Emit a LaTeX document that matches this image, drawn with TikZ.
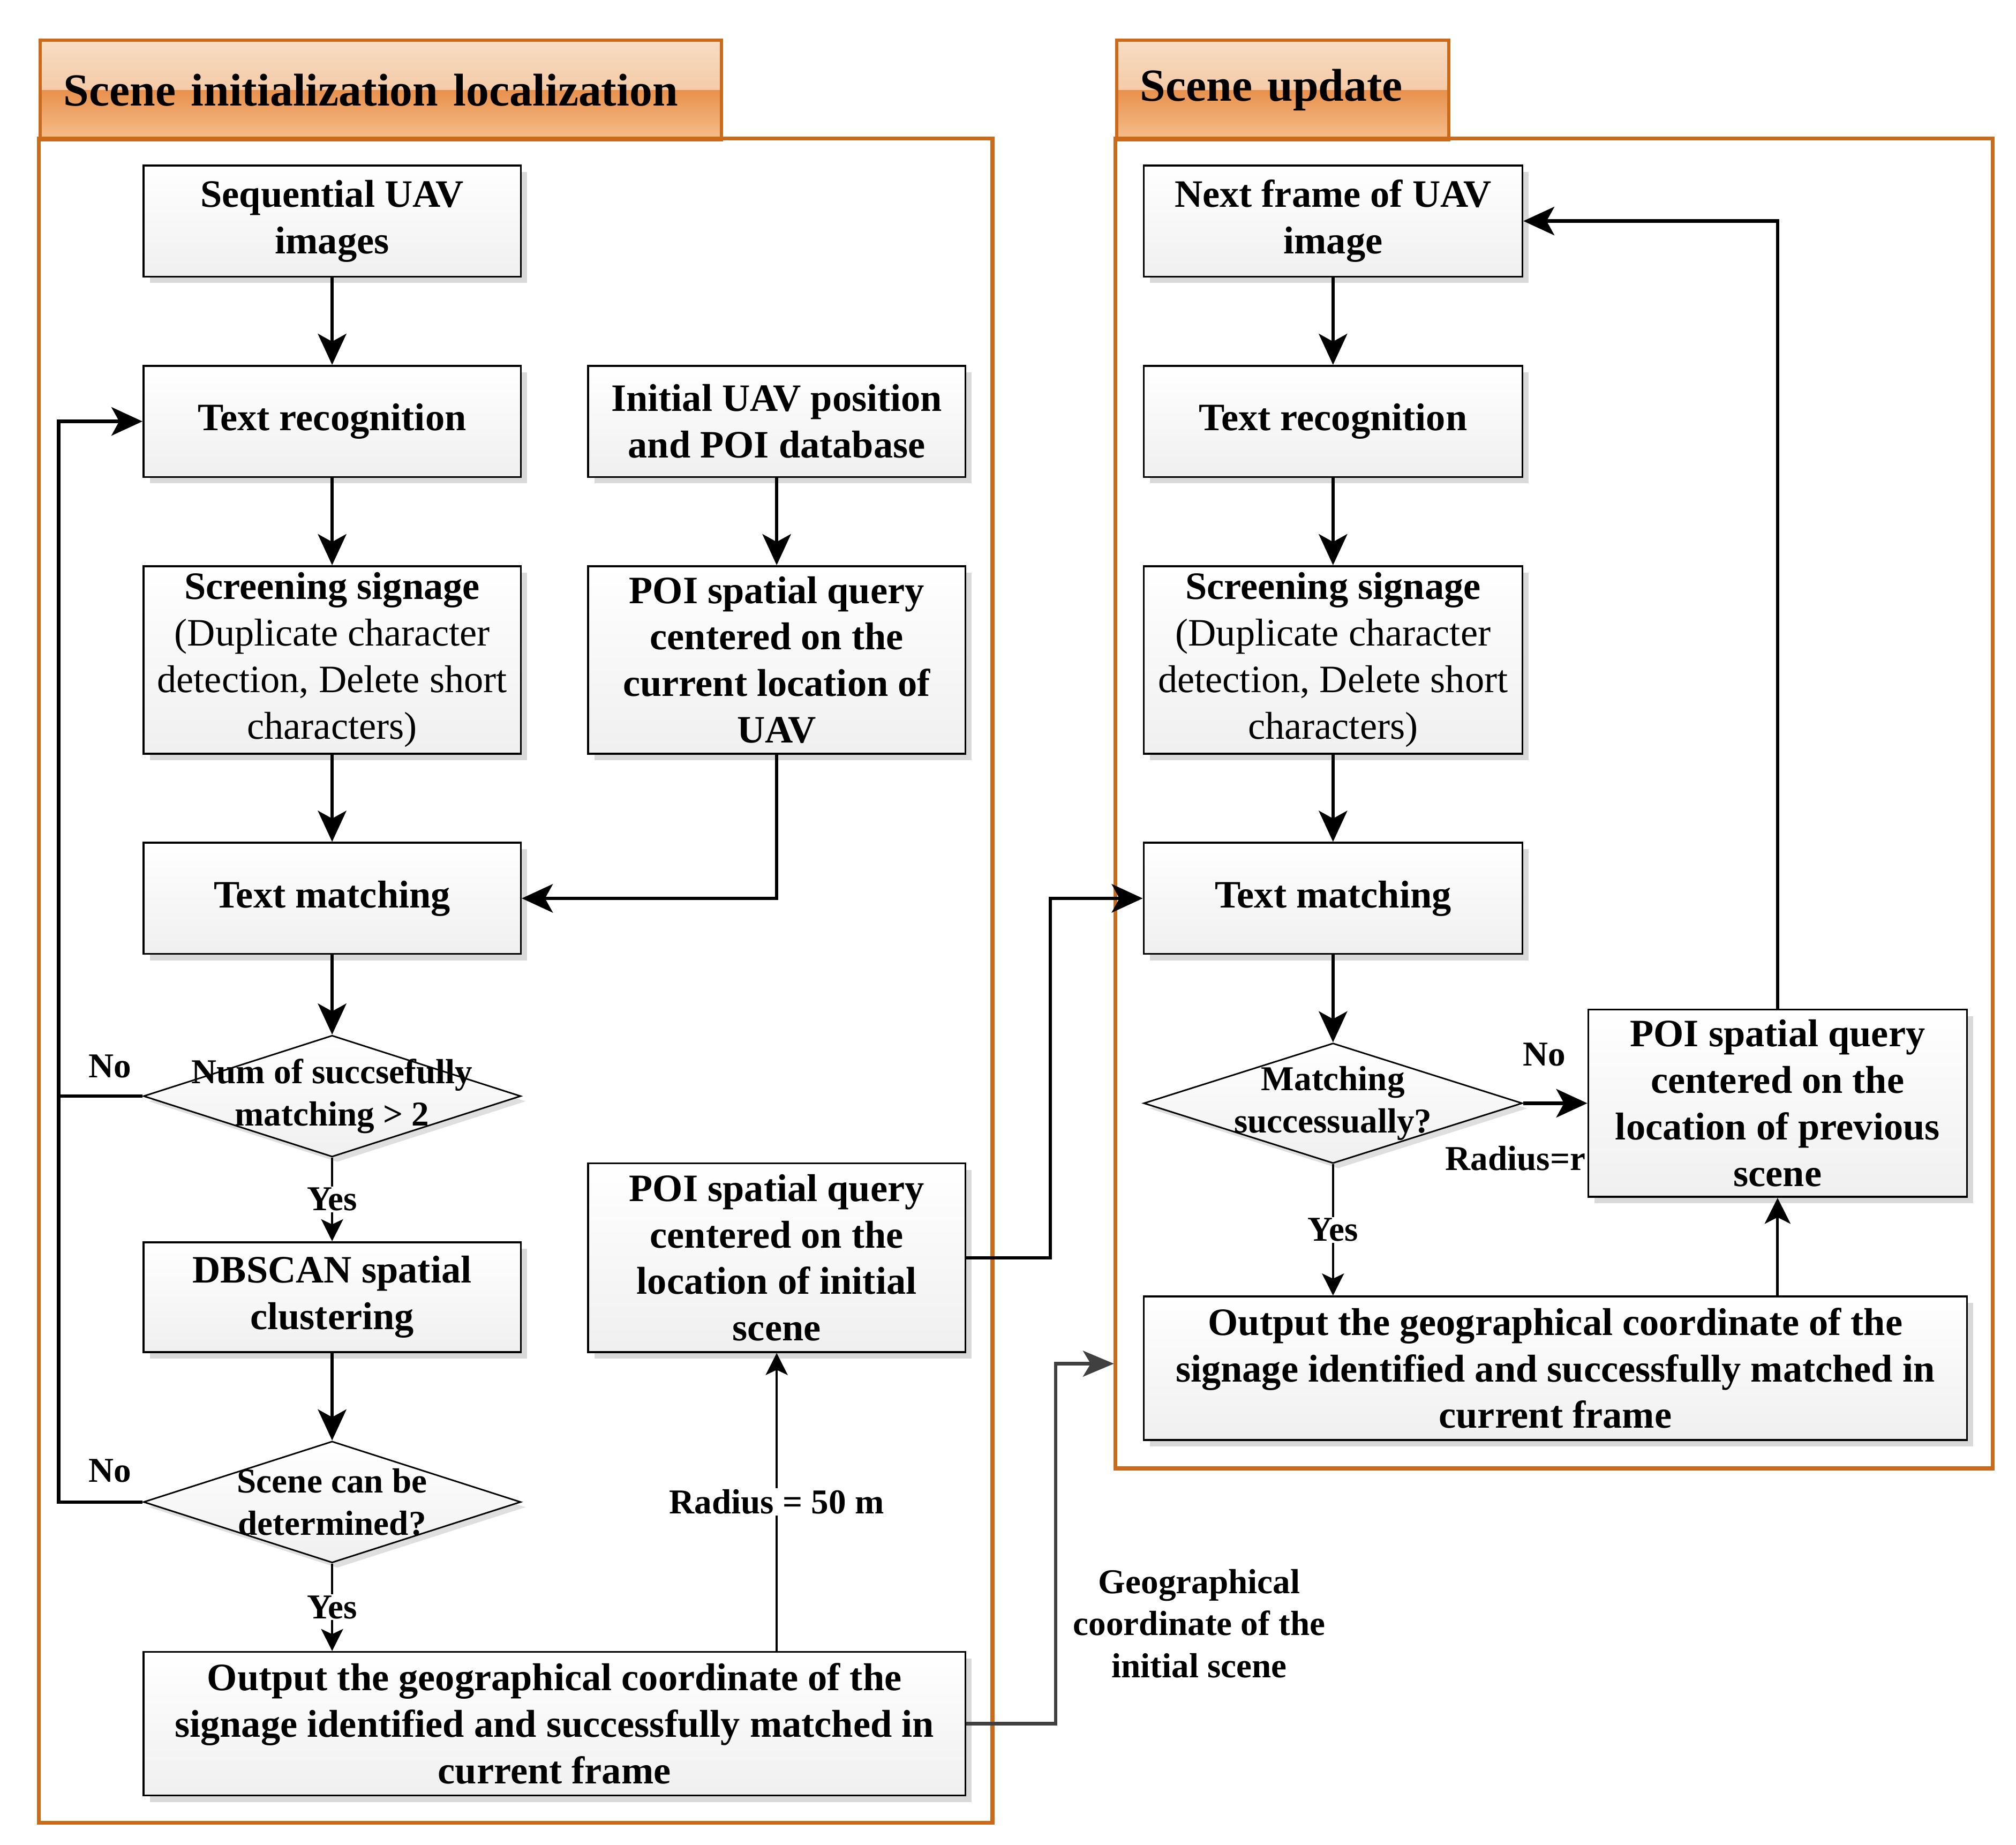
\documentclass[tikz,border=0pt]{standalone}
\usepackage{fontspec}
\setmainfont{Liberation Serif}
\usetikzlibrary{shapes.geometric,arrows.meta,shadows}

\definecolor{frameorange}{HTML}{CC6A1C}
\definecolor{tabA}{HTML}{F8DCC3}
\definecolor{tabB}{HTML}{EFBA8C}
\definecolor{tabC}{HTML}{E8914D}
\definecolor{tabD}{HTML}{F6BE8C}
\definecolor{darkline}{HTML}{404040}

\newcommand{\boxfont}{\bfseries\fontsize{30}{36}\selectfont}
\newcommand{\smallfont}{\bfseries\fontsize{27}{32.5}\selectfont}
\newcommand{\titlefont}{\bfseries\fontsize{35.5}{43}\selectfont}
\newcommand{\rg}{\mdseries}

\begin{document}
\begin{tikzpicture}[x=1pt,y=-1pt,
		box/.style={draw,line width=1.5pt,minimum width=292pt,minimum height=86pt,inner sep=2pt,align=center,
			top color=white,bottom color=gray!12,font=\boxfont,
			drop shadow={shadow xshift=5pt,shadow yshift=-5pt,fill=gray!30,opacity=1}},
		decision/.style={diamond,draw,line width=1.2pt,minimum width=292pt,minimum height=94pt,inner sep=0pt,
			top color=white,bottom color=gray!12,
			drop shadow={shadow xshift=4pt,shadow yshift=-4pt,fill=gray!25,opacity=1}},
		dtext/.style={align=center,font=\smallfont,inner sep=0pt},
		lbl/.style={font=\smallfont,inner sep=1pt,align=center},
		tab/.style={draw=frameorange,line width=2.5pt,minimum height=77pt,anchor=north west,inner xsep=18pt,
			align=left,font=\titlefont,
			path picture={
				\fill[top color=tabA,bottom color=tabB] (path picture bounding box.north west) rectangle (path picture bounding box.east);
				\fill[top color=tabC,bottom color=tabD] (path picture bounding box.west) rectangle (path picture bounding box.south east);
			}},
		panel/.style={draw=frameorange,line width=3pt},
		arr/.style={line width=2.6pt,-{Stealth[length=24pt,width=22pt,inset=6pt]}},
		thinarr/.style={line width=1.6pt,-{Stealth[length=17pt,width=17pt,inset=4pt]}},
		grayarr/.style={draw=darkline,line width=2.6pt,-{Stealth[length=24pt,width=20pt,inset=6pt]}}
	]
	\useasboundingbox (0,0) rectangle (1560,1427);

	% headers and panels
	\node[tab,text width=491pt] (tabinit) at (30,30) {Scene initialization localization};
	\node[tab,text width=221pt] (tabupd) at (863,30) {Scene update};
	\draw[panel] (30,107) rectangle (768,1410);
	\draw[panel] (863,107) rectangle (1542,1136);

	% scene initialization
	\node[box] (seq) at (257,171) {Sequential UAV\\images};
	\node[box] (rec) at (257,326) {Text recognition};
	\node[box] (initpos) at (601,326) {Initial UAV position\\and POI database};
	\node[box,minimum height=145pt] (screen) at (257,510.5) {Screening signage\\\rg(Duplicate character\\\rg detection, Delete short\\\rg characters)};
	\node[box,minimum height=145pt] (querycur) at (601,510.5) {POI spatial query\\centered on the\\current location of\\UAV};
	\node[box] (match) at (257,695) {Text matching};
	\node[decision,label={[dtext]center:Num of succsefully\\matching > 2}] (enough) at (257,848) {};
	\node[box,minimum height=85pt] (dbscan) at (257,1003.5) {DBSCAN spatial\\clustering};
	\node[decision,label={[dtext]center:Scene can be\\determined?}] (determ) at (257,1162) {};
	\node[box,minimum width=636pt,minimum height=111pt] (outinit) at (429,1333.5) {Output the geographical coordinate of the\\signage identified and successfully matched in\\current frame};
	\node[box,minimum height=146pt] (queryinit) at (601,973) {POI spatial query\\centered on the\\location of initial\\scene};

	% scene update
	\node[box,minimum width=293pt] (next) at (1031.5,171) {Next frame of UAV\\image};
	\node[box,minimum width=293pt] (rec2) at (1031.5,326) {Text recognition};
	\node[box,minimum width=293pt,minimum height=145pt] (screen2) at (1031.5,510.5) {Screening signage\\\rg(Duplicate character\\\rg detection, Delete short\\\rg characters)};
	\node[box,minimum width=293pt] (match2) at (1031.5,695) {Text matching};
	\node[decision,minimum width=293pt,minimum height=93pt,label={[dtext]center:Matching\\successually?}] (success) at (1031.5,853.5) {};
	\node[box,minimum width=293pt,minimum height=145pt] (queryprev) at (1375.5,853.5) {POI spatial query\\centered on the\\location of previous\\scene};
	\node[box,minimum width=637pt,minimum height=111pt] (outupd) at (1203.5,1058.5) {Output the geographical coordinate of the\\signage identified and successfully matched in\\current frame};

	% labels
	\node[lbl] (no1) at (85,825) {No};
	\node[lbl] (no2) at (85,1138) {No};
	\node[lbl] (no3) at (1195,816) {No};
	\node[lbl,anchor=east] (radr) at (1228,896) {Radius=r};
	\node[lbl] (geolbl) at (928,1256) {Geographical\\coordinate of the\\initial scene};
	\coordinate (geoin) at (862,1055);

	% connectors, left
	\draw[arr] (seq) -- (rec);
	\draw[arr] (rec) -- (screen);
	\draw[arr] (screen) -- (match);
	\draw[arr] (match) -- (enough);
	\draw[arr] (initpos) -- (querycur);
	\draw[arr] (querycur.south) |- (match.east);
	\draw[thinarr] (enough) -- node[lbl,fill=white]{Yes} (dbscan);
	\draw[arr] (dbscan) -- (determ);
	\draw[thinarr] (determ) -- node[lbl,fill=white]{Yes} (outinit.north -| determ);
	\draw[arr] (enough.west) -- ++(-65,0) |- (rec.west);
	\draw[line width=2.6pt] (determ.west) -- ++(-65,0) |- (enough.west);
	\draw[thinarr] (outinit.north -| queryinit) -- node[lbl,fill=white]{Radius = 50 m} (queryinit.south);
	\draw[arr] (queryinit.east) -- ++(65,0) |- (match2.west);
	\draw[grayarr] (outinit.east) -- ++(69,0) |- (geoin);

	% connectors, right
	\draw[arr] (next) -- (rec2);
	\draw[arr] (rec2) -- (screen2);
	\draw[arr] (screen2) -- (match2);
	\draw[arr] (match2) -- (success);
	\draw[arr] (success.east) -- (queryprev.west);
	\draw[thinarr] (success) -- node[lbl,fill=white]{Yes} (outupd.north -| success);
	\draw[line width=2pt,-{Stealth[length=20pt,width=20pt,inset=5pt]}] (outupd.north -| queryprev) -- (queryprev.south);
	\draw[arr] (queryprev.north) |- (next.east);
\end{tikzpicture}
\end{document}
